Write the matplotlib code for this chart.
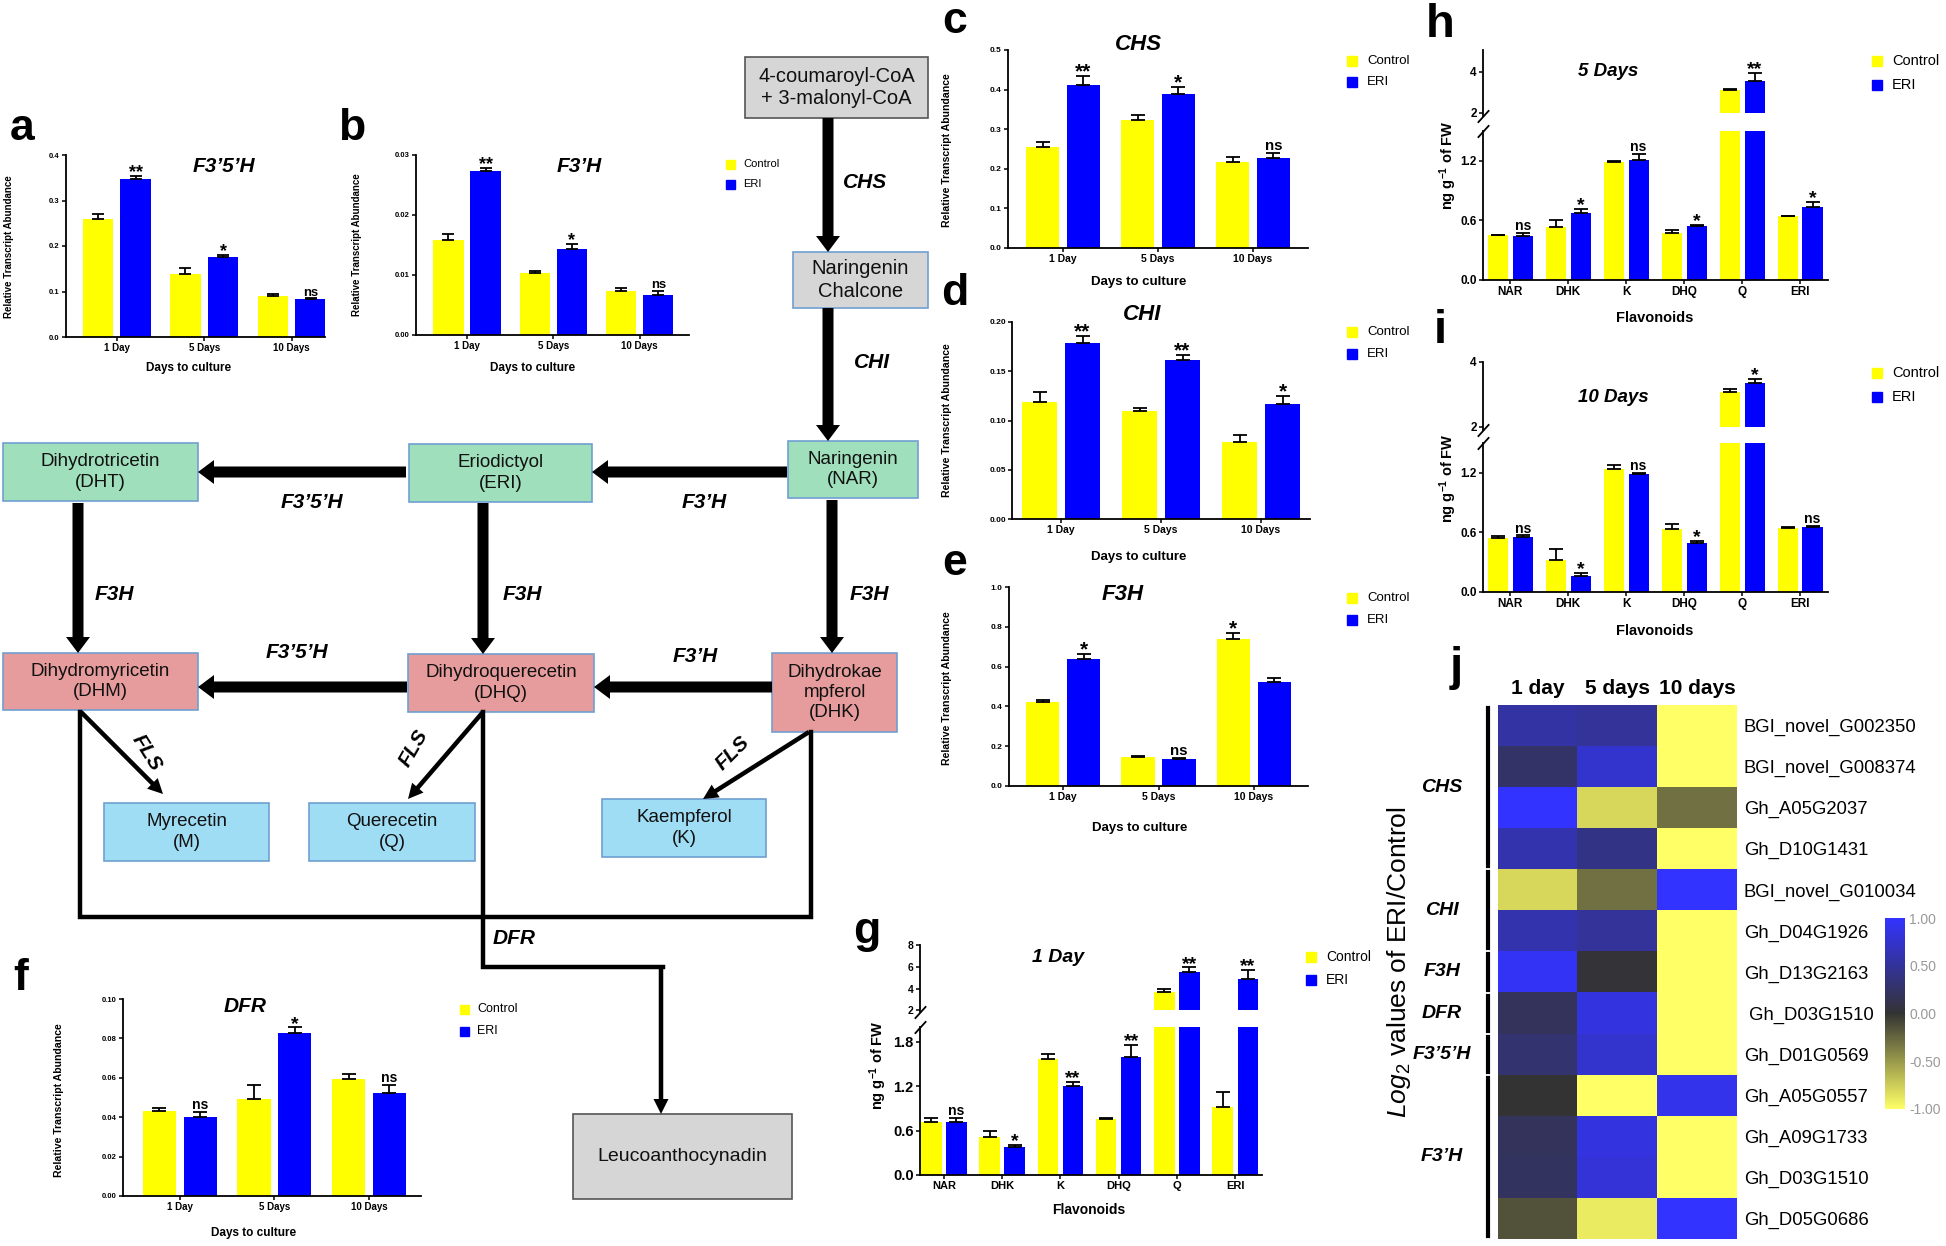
import numpy as np
import matplotlib
matplotlib.use('Agg')
import matplotlib.pyplot as plt
from matplotlib.patches import Rectangle, FancyArrow
from matplotlib.colors import LinearSegmentedColormap

plt.rcParams['font.family'] = ['Liberation Sans', 'DejaVu Sans']
plt.rcParams['mathtext.fontset'] = 'custom'
plt.rcParams['mathtext.rm'] = 'Liberation Sans'
plt.rcParams['mathtext.it'] = 'Liberation Sans:italic'
plt.rcParams['mathtext.bf'] = 'Liberation Sans:bold'

W, H = 1946, 1246
YEL, BLU = '#ffff00', '#0000ff'
BW, OFF = 0.35, 0.215
NARROW = ['Liberation Sans Narrow', 'Liberation Sans', 'DejaVu Sans']

# ---------------- data ----------------
days = ['1 Day', '5 Days', '10 Days']
flavonoids = ['NAR', 'DHK', 'K', 'DHQ', 'Q', 'ERI']

# a  F3'5'H
a_ctrl = [0.260, 0.139, 0.090]
a_ctrl_err = [0.011, 0.013, 0.005]
a_eri = [0.348, 0.175, 0.083]
a_eri_err = [0.006, 0.005, 0.002]
a_sig_ctrl = ['', '', '']
a_sig_eri = ['**', '*', 'ns']

# b  F3'H
b_ctrl = [0.0159, 0.0103, 0.0073]
b_ctrl_err = [0.0009, 0.0003, 0.0006]
b_eri = [0.0274, 0.0144, 0.0067]
b_eri_err = [0.0005, 0.0008, 0.0006]
b_sig_ctrl = ['', '', '']
b_sig_eri = ['**', '*', 'ns']

# c  CHS
c_ctrl = [0.256, 0.322, 0.216]
c_ctrl_err = [0.011, 0.014, 0.015]
c_eri = [0.412, 0.388, 0.227]
c_eri_err = [0.022, 0.018, 0.014]
c_sig_ctrl = ['', '', '']
c_sig_eri = ['**', '*', 'ns']

# d  CHI
d_ctrl = [0.119, 0.110, 0.078]
d_ctrl_err = [0.010, 0.003, 0.007]
d_eri = [0.179, 0.161, 0.117]
d_eri_err = [0.007, 0.005, 0.008]
d_sig_ctrl = ['', '', '']
d_sig_eri = ['**', '**', '*']

# e  F3H
e_ctrl = [0.421, 0.148, 0.740]
e_ctrl_err = [0.012, 0.005, 0.028]
e_eri = [0.638, 0.138, 0.522]
e_eri_err = [0.025, 0.005, 0.020]
e_sig_ctrl = ['', '', '*']
e_sig_eri = ['*', 'ns', '']

# f  DFR
f_ctrl = [0.0432, 0.0492, 0.0592]
f_ctrl_err = [0.0014, 0.0072, 0.0027]
f_eri = [0.0403, 0.0827, 0.0522]
f_eri_err = [0.0022, 0.0029, 0.0041]
f_sig_ctrl = ['', '', '']
f_sig_eri = ['ns', '*', 'ns']

# g  flavonoids, 1 day
g_ctrl = [0.720, 0.514, 1.574, 0.758, 3.69, 0.925]
g_ctrl_err = [0.056, 0.081, 0.066, 0.018, 0.23, 0.203]
g_eri = [0.713, 0.383, 1.209, 1.592, 5.54, 4.92]
g_eri_err = [0.054, 0.023, 0.054, 0.163, 0.40, 0.80]
g_sig = ['ns', '*', '**', '**', '**', '**']

# h  flavonoids, 5 days
h_ctrl = [0.448, 0.530, 1.187, 0.472, 3.12, 0.644]
h_ctrl_err = [0.005, 0.070, 0.010, 0.028, 0.06, 0.003]
h_eri = [0.438, 0.674, 1.213, 0.543, 3.57, 0.731]
h_eri_err = [0.035, 0.041, 0.057, 0.013, 0.38, 0.054]
h_sig = ['ns', '*', 'ns', '*', '**', '*']

# i  flavonoids, 10 days
i_ctrl = [0.540, 0.318, 1.240, 0.630, 3.07, 0.643]
i_ctrl_err = [0.026, 0.118, 0.034, 0.057, 0.10, 0.011]
i_eri = [0.550, 0.158, 1.190, 0.493, 3.35, 0.654]
i_eri_err = [0.020, 0.036, 0.013, 0.020, 0.12, 0.013]
i_sig = ['ns', '*', 'ns', '*', '*', 'ns']

# j  heatmap
heat_days = ['1 day', '5 days', '10 days']
genes = ['BGI_novel_G002350', 'BGI_novel_G008374', 'Gh_A05G2037', 'Gh_D10G1431',
         'BGI_novel_G010034', 'Gh_D04G1926', 'Gh_D13G2163', ' Gh_D03G1510',
         'Gh_D01G0569', 'Gh_A05G0557', 'Gh_A09G1733', 'Gh_D03G1510', 'Gh_D05G0686']
log2_ratio = [[0.55, 0.50, -1.0],
              [0.25, 0.75, -1.0],
              [1.00, -0.80, -0.30],
              [0.60, 0.40, -1.0],
              [-0.80, -0.30, 1.00],
              [0.60, 0.50, -1.0],
              [0.95, 0.03, -1.0],
              [0.20, 0.85, -1.0],
              [0.30, 0.75, -1.0],
              [0.00, -1.00, 0.90],
              [0.20, 0.85, -1.0],
              [0.22, 0.80, -1.0],
              [-0.15, -0.90, 1.00]]
gene_groups = [('CHS', 0, 3), ('CHI', 4, 5), ('F3H', 6, 6), ('DFR', 7, 7),
               ('F3\u20195\u2019H', 8, 8), ('F3\u2019H', 9, 12)]

# ---------------- figure ----------------
fig = plt.figure(figsize=(W / 100, H / 100), dpi=100)
ov = fig.add_axes([0, 0, 1, 1])
ov.set_xlim(0, W)
ov.set_ylim(H, 0)
ov.axis('off')


def px_axes(x0, y0, x1, y1):
    ax = fig.add_axes([x0 / W, 1 - y1 / H, (x1 - x0) / W, (y1 - y0) / H])
    ax.set_facecolor('none')
    return ax


def style(ax, yfs, xfs):
    for s in ['top', 'right']:
        ax.spines[s].set_visible(False)
    for s in ['left', 'bottom']:
        ax.spines[s].set_linewidth(1.3)
    ax.tick_params(direction='out', length=3, width=1.1, pad=1.5)
    ax.tick_params(axis='y', labelsize=yfs)
    ax.tick_params(axis='x', labelsize=xfs)
    for t in ax.get_yticklabels() + ax.get_xticklabels():
        t.set_fontweight('bold')


def series(ax, x, vals, errs, sigs, color, cap, sfs, base=0.0, mask=None):
    vals = np.asarray(vals, float)
    errs = np.asarray(errs, float)
    x = np.asarray(x, float)
    if mask is None:
        mask = np.ones(len(vals), bool)
    hgt = np.where(vals > base, vals - base, 0)
    ax.bar(x, hgt, BW, bottom=base, color=color, zorder=2)
    ax.errorbar(x[mask], vals[mask], yerr=[np.zeros(mask.sum()), errs[mask]], fmt='none',
                ecolor='black', elinewidth=1.3, capsize=cap, capthick=1.3, zorder=3)
    for xi, v, e, s, m in zip(x, vals, errs, sigs, mask):
        if s and m:
            ax.annotate(s, (xi, v + e), xytext=(0, 2 if s == 'ns' else -1), textcoords='offset points',
                        ha='center', va='baseline', fontsize=sfs * (0.72 if s == 'ns' else 1),
                        fontweight='bold', zorder=4)


def simple_panel(box, xlim, ylim, yticks, yfmt, ctrl, ctrl_err, eri, eri_err, sig_c, sig_e,
                 yfs, xfs, cap, sfs):
    ax = px_axes(*box)
    x = np.arange(len(days))
    series(ax, x - OFF, ctrl, ctrl_err, sig_c, YEL, cap, sfs)
    series(ax, x + OFF, eri, eri_err, sig_e, BLU, cap, sfs)
    ax.set_xlim(*xlim)
    ax.set_ylim(*ylim)
    ax.set_yticks(yticks)
    ax.set_yticklabels([yfmt % v for v in yticks])
    ax.set_xticks(x)
    ax.set_xticklabels(days)
    style(ax, yfs, xfs)
    return ax


def broken_panel(low_box, up_box, xlim, low_lim, low_ticks, up_lim, up_ticks,
                 ctrl, ctrl_err, eri, eri_err, sigs, lyfs, uyfs, xfs, cap, sfs):
    lo = px_axes(*low_box)
    up = px_axes(*up_box)
    x = np.arange(len(flavonoids))
    brk = up_ticks[0]
    none = [''] * len(x)
    for vals, errs, sg, col, sx in [(ctrl, ctrl_err, none, YEL, -OFF), (eri, eri_err, sigs, BLU, OFF)]:
        v = np.asarray(vals)
        series(lo, x + sx, vals, errs, sg, col, cap, sfs, mask=v < brk)
        series(up, x + sx, vals, errs, sg, col, cap, sfs, base=brk, mask=v >= brk)
    for ax in (lo, up):
        ax.set_xlim(*xlim)
    lo.set_ylim(*low_lim)
    lo.set_yticks(low_ticks)
    lo.set_yticklabels(['%.1f' % v for v in low_ticks])
    lo.set_xticks(x)
    lo.set_xticklabels(flavonoids)
    up.set_ylim(*up_lim)
    up.set_yticks(up_ticks)
    up.set_yticklabels(['%d' % v for v in up_ticks])
    up.set_xticks([])
    style(lo, lyfs, xfs)
    style(up, uyfs, xfs)
    up.spines['bottom'].set_visible(False)
    kw = dict(marker=[(-1, -1.1), (1, 1.1)], markersize=9, linestyle='none', color='k',
              mec='k', mew=1.3, clip_on=False)
    lo.plot([0], [1], transform=lo.transAxes, **kw)
    up.plot([0], [0], transform=up.transAxes, **kw)
    return lo, up


def legend_at(x, y, dy, size, fs):
    for k, (col, lab) in enumerate([(YEL, 'Control'), (BLU, 'ERI')]):
        yy = y + k * dy
        ov.add_patch(Rectangle((x - size / 2, yy - size / 2), size, size, color=col))
        ov.text(x + size * 1.5, yy, lab, fontsize=fs, va='center', ha='left')


def txt(x, y, s, fs, bold=True, italic=False, rot=0, **kw):
    ov.text(x, y, s, fontsize=fs, fontweight='bold' if bold else 'normal',
            fontstyle='italic' if italic else 'normal', rotation=rot,
            ha=kw.pop('ha', 'center'), va=kw.pop('va', 'center'), **kw)


RTA = 'Relative Transcript Abundance'

# ---- a ----
simple_panel((66, 155, 325, 337), (-0.58, 2.38), (0, 0.4), [0, 0.1, 0.2, 0.3, 0.4], '%.1f',
             a_ctrl, a_ctrl_err, a_eri, a_eri_err, a_sig_ctrl, a_sig_eri, 5.5, 7, 4, 13)
txt(224, 167, 'F3\u20195\u2019H', 15, italic=True)
txt(9, 247, RTA, 7, rot=90)
txt(189, 368, 'Days to culture', 8.5)

# ---- b ----
simple_panel((416, 155, 689, 335), (-0.59, 2.57), (0, 0.03), [0, 0.01, 0.02, 0.03], '%.2f',
             b_ctrl, b_ctrl_err, b_eri, b_eri_err, b_sig_ctrl, b_sig_eri, 5.5, 7, 4, 13)
txt(579, 166, 'F3\u2019H', 15, italic=True)
txt(357, 245, RTA, 7, rot=90)
txt(533, 368, 'Days to culture', 8.5)
legend_at(730, 164, 20, 9, 8)

# ---- c ----
simple_panel((1008, 50, 1308, 248), (-0.58, 2.58), (0, 0.5), [0, 0.1, 0.2, 0.3, 0.4, 0.5], '%.1f',
             c_ctrl, c_ctrl_err, c_eri, c_eri_err, c_sig_ctrl, c_sig_eri, 6, 7.5, 5, 15)
txt(1138, 45, 'CHS', 16, italic=True)
txt(947, 150, RTA, 7.6, rot=90)
txt(1139, 282, 'Days to culture', 9.5)
legend_at(1352, 61, 21, 10, 9.5)

# ---- d ----
simple_panel((1012, 322, 1310, 519), (-0.49, 2.49), (0, 0.2), [0, 0.05, 0.10, 0.15, 0.20], '%.2f',
             d_ctrl, d_ctrl_err, d_eri, d_eri_err, d_sig_ctrl, d_sig_eri, 6, 7.5, 5, 15)
txt(1142, 315, 'CHI', 16, italic=True)
txt(947, 420, RTA, 7.6, rot=90)
txt(1139, 557, 'Days to culture', 9.5)
legend_at(1352, 332, 22, 10, 9.5)

# ---- e ----
simple_panel((1009, 587, 1308, 786), (-0.57, 2.57), (0, 1.0), [0, 0.2, 0.4, 0.6, 0.8, 1.0], '%.1f',
             e_ctrl, e_ctrl_err, e_eri, e_eri_err, e_sig_ctrl, e_sig_eri, 6, 7.5, 5, 15)
txt(1123, 595, 'F3H', 16, italic=True)
txt(947, 688, RTA, 7.6, rot=90)
txt(1140, 828, 'Days to culture', 9.5)
legend_at(1352, 598, 22, 10, 9.5)

# ---- f ----
simple_panel((123, 999, 421, 1196), (-0.6, 2.55), (0, 0.1), [0, 0.02, 0.04, 0.06, 0.08, 0.10], '%.2f',
             f_ctrl, f_ctrl_err, f_eri, f_eri_err, f_sig_ctrl, f_sig_eri, 5.5, 7, 5, 14)
txt(245, 1007, 'DFR', 15, italic=True)
txt(59, 1100, RTA, 7.6, rot=90)
txt(254, 1233, 'Days to culture', 8.5)
legend_at(464, 1009, 22, 9, 9)

# ---- g, h, i ----
NGFW = r'$\mathbf{ng\ g^{-1}\ of\ FW}$'
broken_panel((920, 1027, 1262, 1175), (920, 945, 1262, 1012), (-0.41, 5.46),
             (0, 2.0), [0, 0.6, 1.2, 1.8], (1.85, 8), [2, 4, 6, 8],
             g_ctrl, g_ctrl_err, g_eri, g_eri_err, g_sig, 10.5, 7.5, 8, 5, 14)
txt(1058, 957, '1 Day', 14, italic=True)
txt(878, 1065, NGFW, 10.5, rot=90)
txt(1089, 1210, 'Flavonoids', 10)
legend_at(1311, 957, 23, 10, 10)

broken_panel((1483, 131, 1828, 280), (1483, 50, 1828, 116), (-0.47, 5.48),
             (0, 1.5), [0, 0.6, 1.2], (1.85, 5.07), [2, 4],
             h_ctrl, h_ctrl_err, h_eri, h_eri_err, h_sig, 8.5, 8.5, 8.5, 5, 14)
txt(1608, 72, '5 Days', 13.5, italic=True)
txt(1448, 165, NGFW, 10.5, rot=90)
txt(1655, 318, 'Flavonoids', 10.5)
legend_at(1877, 61, 24, 10, 10.5)

broken_panel((1483, 443, 1828, 592), (1483, 362, 1828, 430), (-0.47, 5.48),
             (0, 1.5), [0, 0.6, 1.2], (1.9, 4.0), [2, 4],
             i_ctrl, i_ctrl_err, i_eri, i_eri_err, i_sig, 8.5, 8.5, 8.5, 5, 14)
txt(1613, 398, '10 Days', 13.5, italic=True)
txt(1448, 478, NGFW, 10.5, rot=90)
txt(1655, 631, 'Flavonoids', 10.5)
legend_at(1877, 373, 24, 10, 10.5)

# ---- j heatmap ----
hx = px_axes(1498, 705, 1737, 1239)
cmap = LinearSegmentedColormap.from_list('yel_blue', ['#ffff66', '#333333', '#3333ff'])
im = hx.imshow(np.array(log2_ratio), cmap=cmap, vmin=-1, vmax=1, aspect='auto',
               interpolation='nearest')
hx.set_xticks(range(len(heat_days)))
hx.set_xticklabels(heat_days, fontsize=15, fontweight='bold')
hx.xaxis.tick_top()
hx.yaxis.tick_right()
hx.set_yticks(range(len(genes)))
hx.set_yticklabels(genes, fontsize=13.3)
hx.tick_params(length=0)
hx.tick_params(axis='x', pad=5)
hx.tick_params(axis='y', pad=5)
for s in hx.spines.values():
    s.set_visible(False)

cax = px_axes(1885, 918, 1905, 1109)
cb = fig.colorbar(im, cax=cax, ticks=[-1, -0.5, 0, 0.5, 1])
cb.ax.set_yticklabels(['-1.00', '-0.50', '0.00', '0.50', '1.00'])
cb.outline.set_visible(False)
cb.ax.tick_params(length=0, labelsize=10, labelcolor='#999999', pad=3)

row_h = (1239 - 705) / len(genes)
for name, r0, r1 in gene_groups:
    ov.plot([1488, 1488], [705 + r0 * row_h + 3, 705 + (r1 + 1) * row_h - 3], color='k', lw=3)
    txt(1442, 705 + (r0 + r1 + 1) / 2 * row_h, name, 14, italic=True)
txt(1399, 962, r'$\mathit{Log}_{2}$ values of ERI/Control', 19, bold=False, rot=90)

# ---- pathway diagram ----
GREEN, PINK, LBLUE, GRAY = '#9fdfbb', '#e69c9c', '#9fddf5', '#d6d6d6'
nodes = {
    'coa': ('4-coumaroyl-CoA\n+ 3-malonyl-CoA', (745, 57, 928, 118), GRAY, 14.5),
    'chal': ('Naringenin\nChalcone', (793, 252, 928, 308), GRAY, 14.5),
    'nar': ('Naringenin\n(NAR)', (788, 441, 918, 498), GREEN, 13.5),
    'eri': ('Eriodictyol\n(ERI)', (409, 444, 592, 502), GREEN, 13.5),
    'dht': ('Dihydrotricetin\n(DHT)', (3, 443, 198, 501), GREEN, 13.5),
    'dhm': ('Dihydromyricetin\n(DHM)', (3, 653, 198, 710), PINK, 13.5),
    'dhq': ('Dihydroquerecetin\n(DHQ)', (408, 654, 594, 712), PINK, 13.5),
    'dhk': ('Dihydrokae\nmpferol\n(DHK)', (772, 653, 897, 732), PINK, 13.5),
    'myr': ('Myrecetin\n(M)', (104, 803, 269, 861), LBLUE, 13.5),
    'que': ('Querecetin\n(Q)', (309, 803, 475, 861), LBLUE, 13.5),
    'kae': ('Kaempferol\n(K)', (602, 799, 766, 857), LBLUE, 13.5),
    'leu': ('Leucoanthocynadin', (573, 1114, 792, 1199), GRAY, 14),
}
for key, (label, (x0, y0, x1, y1), col, fs) in nodes.items():
    edge = '#555555' if key in ('coa', 'leu') else '#6f9fd0'
    ov.add_patch(Rectangle((x0, y0), x1 - x0, y1 - y0, facecolor=col, edgecolor=edge, lw=1.2))
    fam = ['Liberation Sans', 'DejaVu Sans'] if key in ('coa', 'chal', 'leu') else NARROW
    ov.text((x0 + x1) / 2, (y0 + y1) / 2, label, fontsize=fs, ha='center', va='center',
            family=fam, linespacing=1.25, color='#111111')

thick = [((828, 118), (828, 252)), ((828, 308), (828, 441)),
         ((787, 472), (592, 472)), ((406, 472), (198, 472)),
         ((78, 503), (78, 653)), ((483, 503), (483, 654)), ((832, 500), (832, 653)),
         ((407, 687), (198, 687)), ((772, 687), (594, 687))]
for (x0, y0), (x1, y1) in thick:
    ov.add_patch(FancyArrow(x0, y0, x1 - x0, y1 - y0, width=11, head_width=24, head_length=16,
                            length_includes_head=True, color='black', lw=0))
thin = [((81, 712), (163, 794)), ((483, 712), (408, 799)), ((809, 732), (703, 799)),
        ((661, 967), (661, 1114))]
for (x0, y0), (x1, y1) in thin:
    ov.add_patch(FancyArrow(x0, y0, x1 - x0, y1 - y0, width=4.5, head_width=15, head_length=15,
                            length_includes_head=True, color='black', lw=0))
ov.plot([80, 80, 811, 811], [712, 917, 917, 732], color='black', lw=3.2, solid_joinstyle='miter')
ov.plot([483, 483, 663], [712, 967, 967], color='black', lw=3.2, solid_joinstyle='miter')

for (x, y, s, rot) in [(865, 183, 'CHS', 0), (872, 362, 'CHI', 0),
                       (312, 502, 'F3\u20195\u2019H', 0), (704, 502, 'F3\u2019H', 0),
                       (114, 595, 'F3H', 0), (522, 595, 'F3H', 0), (869, 595, 'F3H', 0),
                       (297, 652, 'F3\u20195\u2019H', 0), (695, 657, 'F3\u2019H', 0),
                       (147, 753, 'FLS', -58), (414, 748, 'FLS', 60), (733, 753, 'FLS', 45),
                       (514, 938, 'DFR', 0)]:
    txt(x, y, s, 15, italic=True, rot=rot)

# ---- panel letters ----
for (x, y, s, fs) in [(22, 140, 'a', 32), (352, 140, 'b', 32), (955, 33, 'c', 32),
                      (955, 305, 'd', 32), (955, 575, 'e', 32), (21, 990, 'f', 32),
                      (867, 943, 'g', 32), (1440, 37, 'h', 34), (1440, 343, 'i', 34),
                      (1456, 680, 'j', 34)]:
    txt(x, y, s, fs, va='baseline')

fig.savefig('out.png', dpi=100)
